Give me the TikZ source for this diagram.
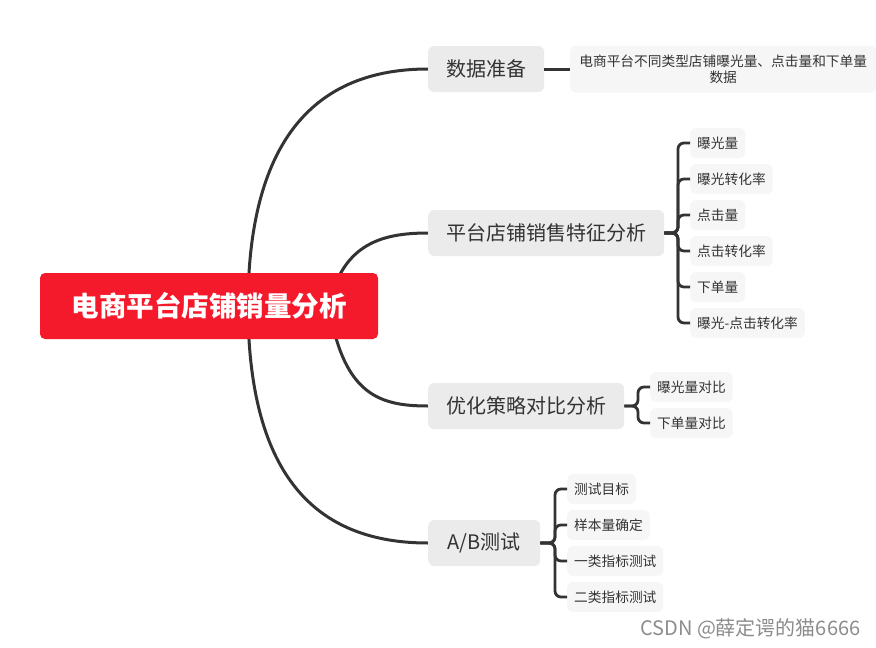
\documentclass[tikz,border=0pt]{standalone}
\usepackage{fontspec}
\setmainfont{Noto Sans CJK SC}
\usetikzlibrary{backgrounds}
\definecolor{rootred}{HTML}{F51A2B}
\definecolor{lvgray}{HTML}{EBEBEB}
\definecolor{leafgray}{HTML}{F6F6F6}
\definecolor{linedark}{HTML}{333333}
\definecolor{txt}{HTML}{333333}
\tikzset{
  rootbox/.style={fill=rootred, rounded corners=5pt, text=white, font=\fontsize{27.5}{31}\selectfont\bfseries, minimum width=338, minimum height=66, inner sep=0pt},
  lvbox/.style={fill=lvgray, rounded corners=6pt, text=txt, font=\fontsize{20}{24}\selectfont, minimum height=46, inner xsep=18pt, inner ysep=0pt, anchor=west},
  leafbox/.style={fill=leafgray, rounded corners=6pt, text=txt, font=\fontsize{13.7}{16}\selectfont, minimum height=30, inner xsep=7pt, inner ysep=0pt, anchor=west},
  mainline/.style={draw=linedark, line width=3pt},
  brline/.style={draw=linedark, line width=2.8pt, rounded corners=6pt},
}
\begin{document}
\begin{tikzpicture}[x=1pt,y=-1pt]
\useasboundingbox (0,0) rectangle (876,648);
% root
\node[rootbox] (root) at (209,306) {电商平台店铺销量分析};
\coordinate (ra) at (248,300);
\coordinate (rb) at (330,300);
\coordinate (rc) at (330,312);
\coordinate (rd) at (248,312);
% level 1
\node[lvbox, minimum width=115] (n1) at (428,69) {数据准备};
\node[lvbox, minimum width=235] (n2) at (428,233) {平台店铺销售特征分析};
\node[lvbox, minimum width=195] (n3) at (428,406) {优化策略对比分析};
\node[lvbox, minimum width=112] (n4) at (428,543) {A/B测试};
% leaves of n1
\node[leafbox, minimum width=306, minimum height=47, align=center, inner xsep=4pt] (l1) at (570,69) {电商平台不同类型店铺曝光量、点击量和下单量\\数据};
% leaves of n2
\node[leafbox] (a1) at (690,143) {曝光量};
\node[leafbox] (a2) at (690,179) {曝光转化率};
\node[leafbox] (a3) at (690,215) {点击量};
\node[leafbox] (a4) at (690,251) {点击转化率};
\node[leafbox] (a5) at (690,287) {下单量};
\node[leafbox] (a6) at (690,323) {曝光-点击转化率};
% leaves of n3
\node[leafbox] (b1) at (650,387) {曝光量对比};
\node[leafbox] (b2) at (650,423) {下单量对比};
% leaves of n4
\node[leafbox] (c1) at (567,489) {测试目标};
\node[leafbox] (c2) at (567,525) {样本量确定};
\node[leafbox] (c3) at (567,561) {一类指标测试};
\node[leafbox] (c4) at (567,597) {二类指标测试};
% watermark
\node[font=\fontsize{20}{22}\selectfont, text=black!45, anchor=west, inner sep=0pt] (wm) at (640,629) {CSDN @薛定谔的猫6666};
\begin{scope}[on background layer]
  \draw[mainline] (ra) .. controls (250,140) and (315,69) .. (n1.west);
  \draw[mainline] (rb) .. controls (345,245) and (380,233) .. (n2.west);
  \draw[mainline] (rc) .. controls (345,395) and (380,406) .. (n3.west);
  \draw[mainline] (rd) .. controls (250,475) and (315,543) .. (n4.west);
\end{scope}
\draw[mainline] (n1.east) -- (l1.west);
\coordinate (k2) at (678,233);
\foreach \l in {a1,a2,a3,a4,a5,a6} \draw[brline] (n2.east) -- (k2) |- (\l.west);
\coordinate (k3) at (638,406);
\foreach \l in {b1,b2} \draw[brline] (n3.east) -- (k3) |- (\l.west);
\coordinate (k4) at (555,543);
\foreach \l in {c1,c2,c3,c4} \draw[brline] (n4.east) -- (k4) |- (\l.west);
\end{tikzpicture}
\end{document}
